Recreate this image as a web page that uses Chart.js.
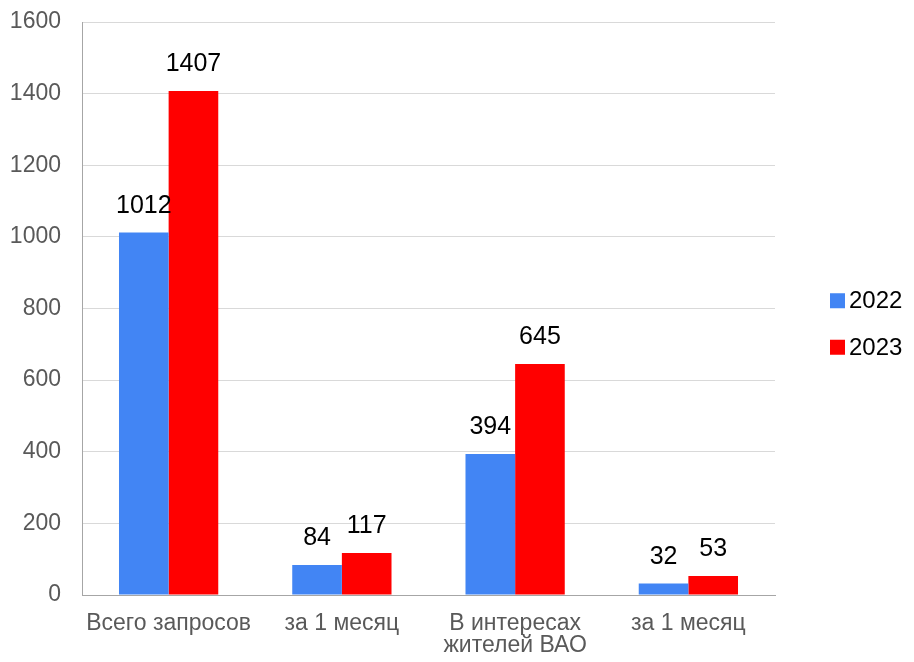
<!DOCTYPE html>
<html>
<head>
<meta charset="utf-8">
<script src="https://cdn.jsdelivr.net/npm/chart.js@4.4.1/dist/chart.umd.min.js"></script>
<style>
  html, body { margin: 0; padding: 0; background: #fff; }
  #wrap { width: 914px; height: 662px; }
</style>
</head>
<body>
<div id="wrap"><canvas id="myBarChart" width="914" height="662"></canvas></div>
<script>
// chart data
var categories = ['Всего запросов', 'за 1 месяц', ['В интересах', 'жителей ВАО'], 'за 1 месяц'];
var values2022 = [1012, 84, 394, 32];
var values2023 = [1407, 117, 645, 53];
var seriesNames = ['2022', '2023'];
var yTicks = [0, 200, 400, 600, 800, 1000, 1200, 1400, 1600];

var colors = ['#4285f4', '#ff0000'];
var fontFamily = '"Liberation Sans", Arial, sans-serif';

// draws the number above each bar (no datalabels plugin offline)
var barValueLabels = {
    id: 'barValueLabels',
    afterDatasetsDraw: function (chart) {
        var ctx = chart.ctx;
        ctx.save();
        ctx.font = '25px ' + fontFamily;
        ctx.fillStyle = '#000';
        ctx.textAlign = 'center';
        ctx.textBaseline = 'alphabetic';
        chart.data.datasets.forEach(function (ds, i) {
            var meta = chart.getDatasetMeta(i);
            meta.data.forEach(function (bar, j) {
                ctx.fillText(String(ds.data[j]), bar.x, bar.y - 20);
            });
        });
        ctx.restore();
    }
};

// legend on the right, placed like the original (built-in one can't space it this way)
var sideLegend = {
    id: 'sideLegend',
    afterDraw: function (chart) {
        var ctx = chart.ctx;
        var area = chart.chartArea;
        var x = area.right + 55;
        var midY = 324;
        var step = 46.5;
        ctx.save();
        ctx.font = '24px ' + fontFamily;
        ctx.textAlign = 'left';
        ctx.textBaseline = 'middle';
        chart.data.datasets.forEach(function (ds, i) {
            var cy = midY + (i - 0.5) * step;
            ctx.fillStyle = ds.backgroundColor;
            ctx.fillRect(x, cy - 7.5, 15, 15);
            ctx.fillStyle = '#000';
            ctx.fillText(ds.label, x + 19, cy + 1);
        });
        ctx.restore();
    }
};

Chart.defaults.font.family = fontFamily;
Chart.defaults.animation = false;

var ctx = document.getElementById('myBarChart');
var myChart = new Chart(ctx, {
    type: 'bar',
    data: {
        labels: categories,
        datasets: [{
            label: seriesNames[0],
            data: values2022,
            backgroundColor: colors[0]
        }, {
            label: seriesNames[1],
            data: values2023,
            backgroundColor: colors[1]
        }]
    },
    plugins: [barValueLabels, sideLegend],
    options: {
        responsive: false,
        layout: { padding: { top: 0, right: 139, left: 9, bottom: 0 } },
        categoryPercentage: 0.573,
        barPercentage: 1.0,
        plugins: {
            legend: { display: false },
            tooltip: { enabled: false }
        },
        scales: {
            x: {
                grid: { display: false, drawTicks: false },
                border: { color: '#a6a6a6' },
                afterFit: function (scale) { scale.height = 67; },
                ticks: {
                    color: '#595959',
                    font: { size: 23, lineHeight: 0.95 },
                    padding: 18,
                    maxRotation: 0,
                    autoSkip: false
                }
            },
            y: {
                min: 0,
                max: 1600,
                afterBuildTicks: function (axis) {
                    axis.ticks = yTicks.map(function (v) { return { value: v }; });
                },
                afterFit: function (scale) {
                    scale.width = 73;
                    scale.paddingTop = 22;
                    scale.paddingBottom = 0;
                },
                grid: { color: '#d9d9d9', drawTicks: false },
                border: { color: '#a6a6a6' },
                ticks: {
                    color: '#595959',
                    font: { size: 23 },
                    padding: 21,
                    callback: function (v) { return String(v); }
                }
            }
        }
    }
});
</script>
</body>
</html>
